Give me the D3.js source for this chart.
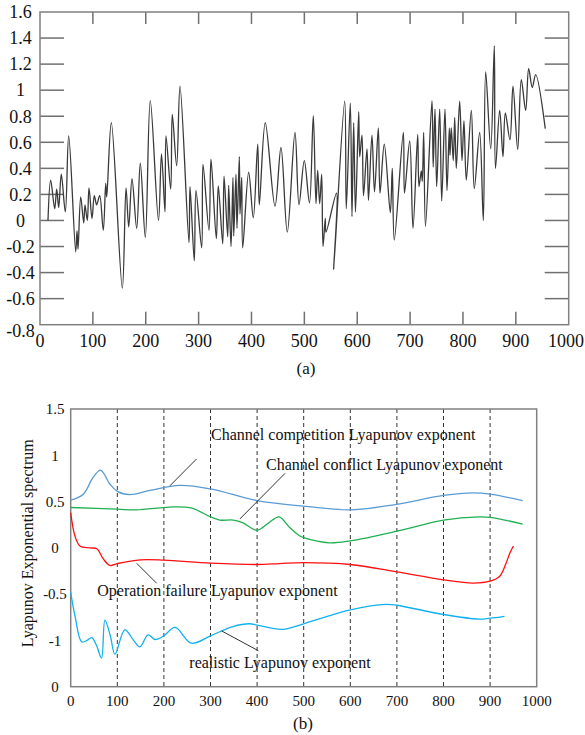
<!DOCTYPE html>
<html>
<head>
<meta charset="utf-8">
<title>Lyapunov</title>
<style>
  body { margin: 0; background: #fff; }
  text { font-family: "Liberation Serif", "Times New Roman", serif; fill: #111; }
  .frame { fill: none; stroke: #808080; stroke-width: 1.5px; }
  .tick { stroke: #707070; stroke-width: 1.5px; }
  .grid { stroke: #333; stroke-width: 1px; stroke-dasharray: 4,3; }
  .leader { stroke: #333; stroke-width: 1px; }
</style>
</head>
<body>
<svg width="585" height="735"></svg>
<script src="https://d3js.org/d3.v7.min.js"></script>
<script>

// ---- (a) data: time series, [step, value]
var seriesA = [
  [15.1,0.0],[20.2,0.31],[27.8,0.09],[31.6,0.24],[35.4,0.10],[40.3,0.355],[47.9,0.066],[54.3,0.65],
  [67.5,-0.24],[70.0,-0.08],[71.9,-0.22],[77.0,0.18],[82.7,-0.02],[85.1,0.12],[89.5,0.0],[92.7,0.25],
  [98.4,0.015],[102.7,0.19],[107.2,0.12],[112.9,0.19],[119.7,-0.075],[124.3,0.285],[126.2,0.18],[134.9,0.75],
  [155.7,-0.52],[162.7,0.25],[167.8,-0.05],[174.0,0.32],[182.9,-0.06],[189.7,0.44],[199.2,-0.13],[208.6,0.92],
  [224.1,0.0],[229.8,0.51],[236.4,0.066],[238.3,0.65],[247.2,0.24],[250.2,0.815],[258.5,0.42],[264.8,1.03],
  [281.8,-0.17],[283.7,0.26],[291.8,-0.31],[295.0,0.23],[305.8,-0.21],[308.3,0.43],[319.6,-0.075],[323.4,0.47],
  [333.5,-0.14],[337.2,0.265],[345.6,-0.18],[348.1,0.34],[355.0,-0.125],[356.9,0.27],[361.3,-0.2],[365.0,0.33],
  [366.4,-0.12],[370.7,0.355],[372.6,-0.06],[377.0,0.49],[378.3,0.05],[381.5,0.33],[383.4,-0.21],[394.7,0.37],
  [403.4,0.02],[411.8,0.585],[414.8,0.12],[426.1,0.75],[444.5,0.11],[455.8,0.56],[467.7,-0.09],[482.3,0.675],
  [489.9,0.12],[499.9,0.46],[509.7,0.135],[516.9,0.805],[522.0,0.13],[525.2,0.385],[529.0,0.13],[532.8,0.355],
  [535.3,-0.2],[539.6,0.015],[540.9,-0.09],[560.8,0.21],[555.5,-0.375],[576.3,0.915],[579.3,0.09],[586.9,0.9],
  [590.1,0.03],[593.3,0.75],[596.7,0.065],[602.8,0.835],[604.7,0.49],[609.0,0.655],[611.9,0.19],[618.5,0.55],
  [621.3,0.155],[627.9,0.655],[632.7,0.22],[639.9,0.71],[643.1,0.21],[651.2,0.585],[662.6,0.06],[666.3,0.4],
  [670.1,-0.15],[687.2,0.675],[689.4,0.21],[699.3,0.61],[705.5,-0.06],[714.4,0.66],[716.8,0.26],[721.2,0.38],
  [723.1,0.3],[725.7,0.675],[729.1,-0.045],[741.4,0.92],[743.7,0.41],[747.1,0.855],[750.3,0.26],[756.0,0.855],
  [759.8,0.15],[766.0,0.855],[769.8,0.23],[774.2,0.71],[775.5,0.50],[777.9,0.71],[781.7,0.46],[784.4,0.79],
  [787.4,0.4],[793.8,0.915],[798.2,0.46],[801.9,0.765],[806.3,0.31],[815.8,0.845],[821.4,0.245],[831.6,0.675],
  [838.5,0.0],[843.0,1.14],[852.5,0.55],[859.3,1.34],[861.5,0.4],[869.5,0.845],[875.7,0.49],[880.1,0.825],
  [888.9,0.62],[894.6,1.03],[903.5,0.545],[910.3,1.08],[918.6,0.845],[924.3,1.165],[931.1,1.02],[937.6,1.12],
  [955.7,0.705]
];
var xTicksA = [0,100,200,300,400,500,600,700,800,900,1000];
var yTicksA = [1.6,1.4,1.2,1,0.8,0.6,0.4,0.2,0,-0.2,-0.4,-0.6,-0.8];
var yLabelsA = ["1.6","1.4","1.2","1","0.8","0.6","0.4","0.2","0","-0.2","-0.4","-0.6","-0.8"];

// ---- (b) data: Lyapunov exponent curves
var competition = [[0,0.515],[27,0.58],[48,0.76],[64,0.84],[84,0.69],[100,0.61],[127,0.575],[170,0.62],
  [234,0.675],[300,0.637],[400,0.51],[500,0.45],[600,0.41],[700,0.47],[800,0.566],[863,0.594],[900,0.58],[970,0.51]];
var conflict = [[0,0.436],[100,0.418],[141,0.41],[220,0.443],[260,0.43],[300,0.335],[320,0.3],[349,0.30],[370,0.27],
  [400,0.19],[425,0.27],[447,0.335],[470,0.22],[491,0.13],[500,0.11],[555,0.054],[600,0.076],[700,0.18],
  [800,0.30],[877,0.335],[900,0.33],[970,0.256]];
var failure = [[0,0.38],[9,0.13],[20,0.02],[41,0.0],[56,-0.01],[70,-0.12],[84,-0.19],[100,-0.17],[149,-0.13],
  [200,-0.133],[300,-0.165],[400,-0.18],[448,-0.17],[500,-0.16],[600,-0.18],[700,-0.26],[800,-0.345],
  [863,-0.38],[900,-0.36],[920,-0.31],[934,-0.17],[942,-0.06],[950,0.02]];
var realistic = [[0,-0.48],[9,-0.73],[23.5,-1.015],[35,-1.0],[45,-0.97],[55,-1.05],[66,-1.19],[73.5,-0.78],
  [85,-0.95],[95,-1.15],[116,-0.885],[135,-1.0],[148.5,-1.07],[166,-0.94],[181,-0.99],[200,-0.95],[224,-0.86],
  [259,-1.03],[300,-0.95],[348,-0.85],[384,-0.82],[400,-0.835],[455,-0.88],[500,-0.82],[600,-0.67],[677,-0.61],
  [700,-0.62],[800,-0.72],[877,-0.77],[900,-0.76],[931,-0.74]];
var gridB = [100,200,300,400,500,600,700,800,900];
var xTicksB = [0,100,200,300,400,500,600,700,800,900,1000];
var yTicksB = [1.5,1,0.5,0,-0.5,-1,-1.5];
var yLabelsB = ["1.5","1","0.5","0","-0.5","-1","0"];

var seriesB = [
  {data: competition, color: "#5b9bd5"},
  {data: conflict, color: "#1fb050"},
  {data: failure, color: "#ff1010"},
  {data: realistic, color: "#12b0ee"}
];
// annotations in data units: text start, leader from -> to
var notes = [
  {text: "Channel competition Lyapunov exponent", tx: 301, ty: 1.165, x1: 270, y1: 0.96, x2: 213, y2: 0.671},
  {text: "Channel conflict Lyapunov exponent", tx: 419, ty: 0.84, x1: 460, y1: 0.805, x2: 363, y2: 0.312},
  {text: "Operation failure Lyapunov exponent", tx: 57, ty: -0.52, x1: 184.5, y1: -0.383, x2: 141.6, y2: -0.167},
  {text: "realistic Lyapunov exponent", tx: 254.5, ty: -1.295, x1: 402.6, y1: -1.111, x2: 324, y2: -0.898}
];

var svg = d3.select("svg");
svg.append("rect").attr("width", 585).attr("height", 735).attr("fill", "#fff");

// ================= (a) =================
var xa = d3.scaleLinear().domain([0, 1000]).range([40, 568.7]);
var ya = d3.scaleLinear().domain([-0.8, 1.6]).range([324.7, 12]);
var ga = svg.append("g");

ga.selectAll(".tl").data(yTicksA.slice(1, -1)).enter().append("line")
    .attr("class", "tick")
    .attr("x1", xa(0)).attr("x2", xa(0) + 24)
    .attr("y1", function(d) { return ya(d); }).attr("y2", function(d) { return ya(d); });
ga.selectAll(".tr").data(yTicksA.slice(1, -1)).enter().append("line")
    .attr("class", "tick")
    .attr("x1", xa(1000) - 24).attr("x2", xa(1000))
    .attr("y1", function(d) { return ya(d); }).attr("y2", function(d) { return ya(d); });
ga.selectAll(".tb").data(xTicksA.slice(1, -1)).enter().append("line")
    .attr("class", "tick")
    .attr("x1", function(d) { return xa(d); }).attr("x2", function(d) { return xa(d); })
    .attr("y1", ya(-0.8)).attr("y2", ya(-0.8) - 13);
ga.selectAll(".tt").data(xTicksA.slice(1, -1)).enter().append("line")
    .attr("class", "tick")
    .attr("x1", function(d) { return xa(d); }).attr("x2", function(d) { return xa(d); })
    .attr("y1", ya(1.6)).attr("y2", ya(1.6) + 12);

ga.append("rect").attr("class", "frame")
    .attr("x", xa(0)).attr("y", ya(1.6))
    .attr("width", xa(1000) - xa(0)).attr("height", ya(-0.8) - ya(1.6));

var lineA = d3.line()
    .x(function(d) { return xa(d[0]); })
    .y(function(d) { return ya(d[1]); })
    .curve(d3.curveCatmullRom.alpha(0.5));
ga.append("path").datum(seriesA)
    .attr("d", lineA)
    .attr("fill", "none").attr("stroke", "#3a3a3a").attr("stroke-width", 1.3);

ga.selectAll(".yl").data(yTicksA).enter().append("text")
    .attr("x", 20.5).attr("y", function(d) { return ya(d); })
    .attr("dy", function(d, i) { return i == yTicksA.length - 1 ? "0.7em" : "0.35em"; })
    .attr("text-anchor", "middle").style("font-size", "18px")
    .text(function(d, i) { return yLabelsA[i]; });
ga.selectAll(".xl").data(xTicksA).enter().append("text")
    .attr("x", function(d) { return d == 1000 ? 584 : xa(d); }).attr("y", 347)
    .attr("text-anchor", function(d) { return d == 1000 ? "end" : "middle"; })
    .style("font-size", "18px")
    .text(function(d) { return d; });
ga.append("text").attr("x", 306).attr("y", 374)
    .attr("text-anchor", "middle").style("font-size", "17px").text("(a)");

// ================= (b) =================
var xb = d3.scaleLinear().domain([0, 1000]).range([70.7, 536.7]);
var yb = d3.scaleLinear().domain([-1.5, 1.5]).range([686.7, 409]);
var gb = svg.append("g");

gb.selectAll(".grid").data(gridB).enter().append("line")
    .attr("class", "grid")
    .attr("x1", function(d) { return xb(d); }).attr("x2", function(d) { return xb(d); })
    .attr("y1", yb(1.5)).attr("y2", yb(-1.5));

gb.append("rect").attr("class", "frame")
    .attr("x", xb(0)).attr("y", yb(1.5))
    .attr("width", xb(1000) - xb(0)).attr("height", yb(-1.5) - yb(1.5));

var lineB = d3.line()
    .x(function(d) { return xb(d[0]); })
    .y(function(d) { return yb(d[1]); })
    .curve(d3.curveCatmullRom.alpha(0.5));
gb.selectAll(".series").data(seriesB).enter().append("path")
    .attr("d", function(d) { return lineB(d.data); })
    .attr("fill", "none")
    .attr("stroke", function(d) { return d.color; })
    .attr("stroke-width", 1.3);

gb.selectAll(".leader").data(notes).enter().append("line")
    .attr("class", "leader")
    .attr("x1", function(d) { return xb(d.x1); }).attr("y1", function(d) { return yb(d.y1); })
    .attr("x2", function(d) { return xb(d.x2); }).attr("y2", function(d) { return yb(d.y2); });
gb.selectAll(".note").data(notes).enter().append("text")
    .attr("x", function(d) { return xb(d.tx); }).attr("y", function(d) { return yb(d.ty); })
    .style("font-size", "16px")
    .text(function(d) { return d.text; });

gb.selectAll(".yl").data(yTicksB).enter().append("text")
    .attr("x", 55).attr("y", function(d) { return yb(d); })
    .attr("dy", "0.35em")
    .attr("text-anchor", "middle").style("font-size", "15px")
    .text(function(d, i) { return yLabelsB[i]; });
gb.selectAll(".xl").data(xTicksB).enter().append("text")
    .attr("x", function(d) { return xb(d); }).attr("y", 706)
    .attr("text-anchor", "middle").style("font-size", "15px")
    .text(function(d) { return d; });
gb.append("text")
    .attr("transform", "translate(33," + yb(0.05) + ") rotate(-90)")
    .attr("text-anchor", "middle").style("font-size", "16px")
    .text("Lyapunov Exponential spectrum");
gb.append("text").attr("x", 303).attr("y", 729)
    .attr("text-anchor", "middle").style("font-size", "17px").text("(b)");

</script>
</body>
</html>
